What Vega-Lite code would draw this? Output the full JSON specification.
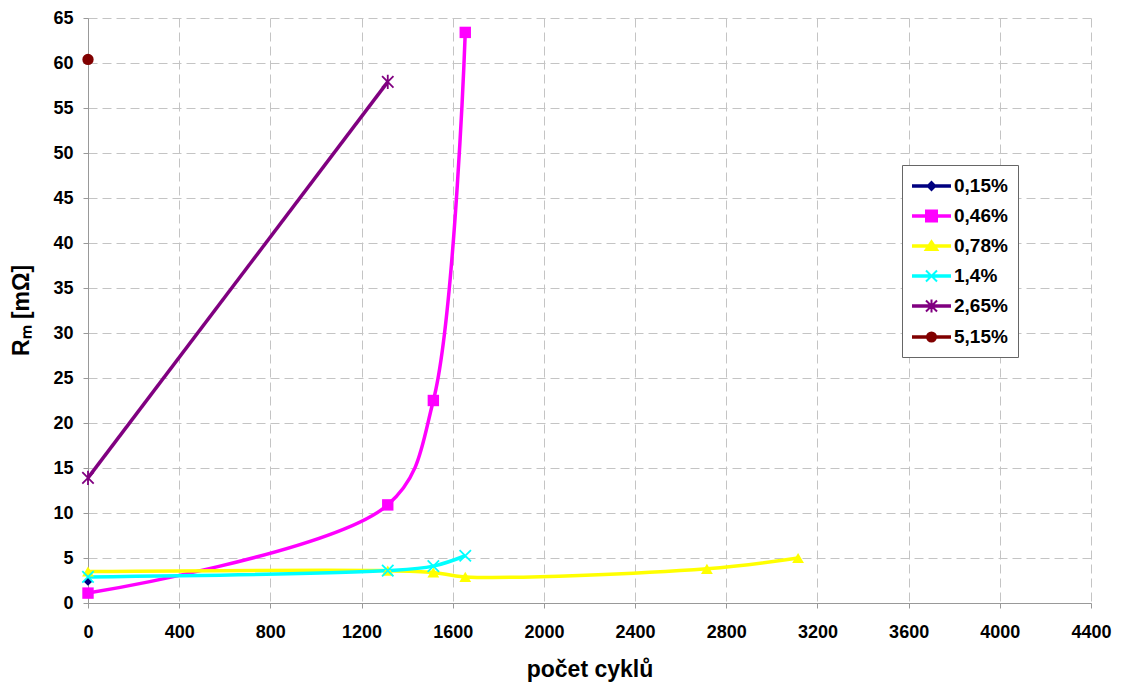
{
  "$schema": "https://vega.github.io/schema/vega-lite/v6.json",
  "width": 1003,
  "height": 585,
  "autosize": {"type": "none"},
  "padding": {"left": 88, "top": 18, "right": 30, "bottom": 83},
  "background": "white",
  "config": {
    "view": {"stroke": null},
    "font": "Liberation Sans",
    "axis": {
      "grid": true,
      "gridDash": [9, 5],
      "gridColor": "#c4c4c4",
      "gridWidth": 1,
      "domainColor": "#999999",
      "tickColor": "#999999",
      "tickSize": 5,
      "labelFont": "Liberation Sans",
      "labelFontSize": 18,
      "labelFontWeight": "bold",
      "labelColor": "black",
      "titleFont": "Liberation Sans",
      "titleFontSize": 23,
      "titleFontWeight": "bold",
      "titleColor": "black"
    }
  },
  "data": {
    "values": [
      {"s": "0,15%", "x": 0, "y": 2.4},
      {"s": "0,46%", "x": 0, "y": 1.1},
      {"s": "0,46%", "x": 1315, "y": 10.9},
      {"s": "0,46%", "x": 1515, "y": 22.5},
      {"s": "0,46%", "x": 1655, "y": 63.4},
      {"s": "0,78%", "x": 0, "y": 3.5},
      {"s": "0,78%", "x": 1315, "y": 3.6},
      {"s": "0,78%", "x": 1515, "y": 3.4},
      {"s": "0,78%", "x": 1655, "y": 2.9},
      {"s": "0,78%", "x": 2715, "y": 3.8},
      {"s": "0,78%", "x": 3115, "y": 5.0},
      {"s": "1,4%", "x": 0, "y": 2.9},
      {"s": "1,4%", "x": 1315, "y": 3.6},
      {"s": "1,4%", "x": 1515, "y": 4.1},
      {"s": "1,4%", "x": 1655, "y": 5.25},
      {"s": "2,65%", "x": 0, "y": 13.9},
      {"s": "2,65%", "x": 1315, "y": 57.9},
      {"s": "5,15%", "x": 0, "y": 60.4}
    ]
  },
  "encoding": {
    "x": {
      "field": "x",
      "type": "quantitative",
      "scale": {"domain": [0, 4400], "nice": false, "zero": false},
      "axis": {
        "values": [0, 400, 800, 1200, 1600, 2000, 2400, 2800, 3200, 3600, 4000, 4400],
        "format": "d",
        "title": "počet cyklů",
        "labelPadding": 15,
        "titlePadding": 17,
        "labelFlush": false,
        "labelOverlap": false
      }
    },
    "y": {
      "field": "y",
      "type": "quantitative",
      "scale": {"domain": [0, 65], "nice": false},
      "axis": {
        "values": [0, 5, 10, 15, 20, 25, 30, 35, 40, 45, 50, 55, 60, 65],
        "title": "Rₘ [mΩ]",
        "labelPadding": 10,
        "titleAngle": 270,
        "titleX": -60,
        "titleY": 292,
        "titleAlign": "center",
        "titleBaseline": "alphabetic",
        "labelOverlap": false
      }
    },
    "color": {
      "field": "s",
      "type": "nominal",
      "scale": {
        "domain": ["0,15%", "0,46%", "0,78%", "1,4%", "2,65%", "5,15%"],
        "range": ["#000080", "#FF00FF", "#FFFF00", "#00FFFF", "#800080", "#800000"]
      },
      "legend": {
        "orient": "none",
        "legendX": 814,
        "legendY": 147,
        "title": null,
        "direction": "vertical",
        "padding": 10,
        "strokeColor": "#666666",
        "fillColor": "white",
        "labelFont": "Liberation Sans",
        "labelFontSize": 19,
        "labelFontWeight": "bold",
        "labelColor": "black",
        "symbolSize": 400,
        "symbolStrokeWidth": 2,
        "labelOffset": 20,
        "rowPadding": 9,
        "encode": {
          "symbols": {
            "update": {
              "shape": {"signal": "datum.value === '0,15%' ? 'M-1,-0.07H2.7V0.07H-1ZM0.85,-0.4L1.25,0L0.85,0.4L0.45,0Z' : datum.value === '0,46%' ? 'M-1,-0.07H2.7V0.07H-1ZM0.3,-0.55H1.4V0.55H0.3Z' : datum.value === '0,78%' ? 'M-1,-0.07H2.7V0.07H-1ZM0.85,-0.5L1.45,0.4H0.25Z' : datum.value === '1,4%' ? 'M-1,-0.07H2.7V0.07H-1ZM0.3,-0.55L1.4,0.55M0.3,0.55L1.4,-0.55' : datum.value === '2,65%' ? 'M-1,-0.07H2.7V0.07H-1ZM0.3,-0.55L1.4,0.55M0.3,0.55L1.4,-0.55M0.85,-0.65L0.85,0.65' : 'M-1,-0.07H2.7V0.07H-1ZM0.4,0A0.45,0.45,0,1,1,1.3,0A0.45,0.45,0,1,1,0.4,0Z'"},
              "size": {"value": 400},
              "fill": {"scale": "color", "field": "value"},
              "stroke": {"scale": "color", "field": "value"},
              "strokeWidth": {"value": 2},
              "opacity": {"value": 1},
              "fillOpacity": {"value": 1},
              "strokeOpacity": {"value": 1}
            }
          }
        }
      }
    }
  },
  "layer": [
    {
      "transform": [{"filter": {"field": "s", "oneOf": ["0,46%", "0,78%", "1,4%", "2,65%"]}}],
      "mark": {"type": "line", "interpolate": "catmull-rom", "strokeWidth": 3.5}
    },
    {
      "transform": [{"filter": {"field": "s", "equal": "0,15%"}}],
      "mark": {"type": "point", "filled": true, "opacity": 1, "shape": "diamond", "size": 80}
    },
    {
      "transform": [{"filter": {"field": "s", "equal": "0,46%"}}],
      "mark": {"type": "point", "filled": true, "opacity": 1, "shape": "square", "size": 130}
    },
    {
      "transform": [{"filter": {"field": "s", "equal": "0,78%"}}],
      "mark": {"type": "point", "filled": true, "opacity": 1, "shape": "triangle-up", "size": 140}
    },
    {
      "transform": [{"filter": {"field": "s", "equal": "1,4%"}}],
      "mark": {"type": "point", "filled": false, "opacity": 1, "strokeWidth": 1.8, "shape": "M-1,-1L1,1M-1,1L1,-1", "size": 130}
    },
    {
      "transform": [{"filter": {"field": "s", "equal": "2,65%"}}],
      "mark": {"type": "point", "filled": false, "opacity": 1, "strokeWidth": 1.8, "shape": "M-1,-1L1,1M-1,1L1,-1M0,-1.25L0,1.25", "size": 130}
    },
    {
      "transform": [{"filter": {"field": "s", "equal": "5,15%"}}],
      "mark": {"type": "point", "filled": true, "opacity": 1, "shape": "circle", "size": 128}
    }
  ]
}
